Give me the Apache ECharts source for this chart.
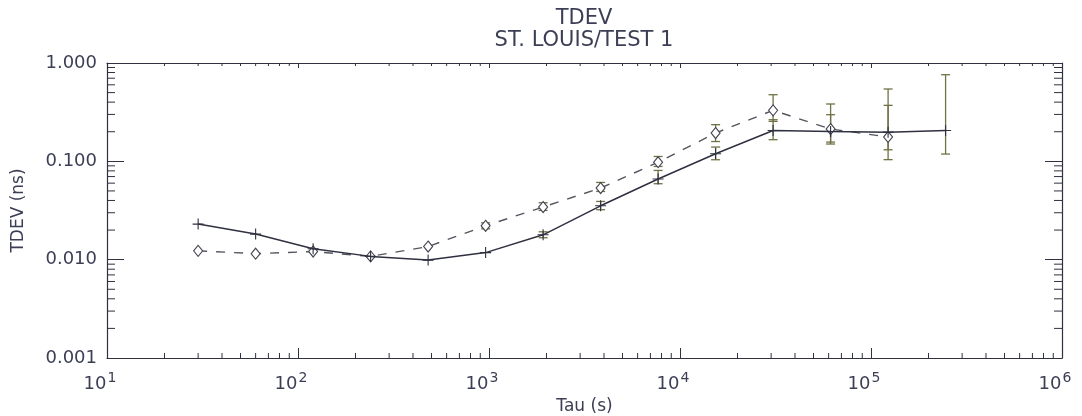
<!DOCTYPE html>
<html>
<head>
<meta charset="utf-8">
<script src="https://cdn.jsdelivr.net/npm/echarts@6/dist/echarts.min.js"></script>
<style>html,body{margin:0;padding:0;background:#fff;}#c{width:1082px;height:416px;}</style>
</head>
<body>
<div id="c"></div>
<script>
// ---- data ----
const tau = [30, 60, 120, 240, 480, 960, 1920, 3840, 7680, 15360, 30720, 61440, 122880, 245760];
const tdevSolid = [0.0230, 0.0182, 0.0129, 0.0108, 0.0099, 0.0118, 0.0179, 0.0353, 0.0661, 0.1195, 0.206, 0.201, 0.198, 0.206];
const tdevDashed = [0.0123, 0.0115, 0.0121, 0.0108, 0.0136, 0.0221, 0.0343, 0.0535, 0.098, 0.194, 0.330, 0.213, 0.177];
// error bars: [tau, low, high]
const errSolid = [
  [1920, 0.0167, 0.0192], [3840, 0.0322, 0.0391], [7680, 0.0592, 0.0808],
  [15360, 0.1038, 0.1397], [30720, 0.166, 0.265], [61440, 0.150, 0.298],
  [122880, 0.131, 0.371], [245760, 0.1186, 0.760]
];
const errDashed = [
  [960, 0.0206, 0.0237], [1920, 0.0317, 0.0379], [3840, 0.0494, 0.0610],
  [7680, 0.0887, 0.112], [15360, 0.159, 0.236], [30720, 0.255, 0.476],
  [61440, 0.157, 0.383], [122880, 0.104, 0.544]
];
const xMinorTicks = [];
const xDecades = [10, 100, 1000, 10000, 100000];
const minorMult = [2, 3, 4, 5, 6, 7, 8, 9];
xDecades.forEach(d => minorMult.forEach(m => xMinorTicks.push(d * m)));
const yMinorTicks = [];
const yDecades = [0.001, 0.01, 0.1];
yDecades.forEach(d => minorMult.forEach(m => yMinorTicks.push(+(d * m).toPrecision(3))));
const yTickLabels = {'0.001': '0.001', '0.01': '0.010', '0.1': '0.100', '1': '1.000'};
const xTickExponents = {'10': '1', '100': '2', '1000': '3', '10000': '4', '100000': '5', '1000000': '6'};

// ---- styles ----
const ink = '#2f3040';
const txt = '#3c3e56';
const errCol = '#717146';
const font = 'DejaVu Sans';

function errRender(params, api) {
  const x = api.value(0);
  const p1 = api.coord([x, api.value(1)]);
  const p2 = api.coord([x, api.value(2)]);
  const hw = 4.5;
  const st = {stroke: errCol, lineWidth: 1.3};
  return {type: 'group', children: [
    {type: 'line', shape: {x1: p1[0], y1: p1[1], x2: p2[0], y2: p2[1]}, style: st},
    {type: 'line', shape: {x1: p1[0] - hw, y1: p1[1], x2: p1[0] + hw, y2: p1[1]}, style: st},
    {type: 'line', shape: {x1: p2[0] - hw, y1: p2[1], x2: p2[0] + hw, y2: p2[1]}, style: st}
  ]};
}
function xMinorRender(params, api) {
  const cs = params.coordSys;
  const px = api.coord([api.value(0), 0.01])[0];
  const b = cs.y + cs.height, t = cs.y;
  const st = {stroke: ink, lineWidth: 1};
  return {type: 'group', children: [
    {type: 'line', shape: {x1: px, y1: b, x2: px, y2: b - 5}, style: st},
    {type: 'line', shape: {x1: px, y1: t, x2: px, y2: t + 3}, style: st}
  ]};
}
function yMinorRender(params, api) {
  const cs = params.coordSys;
  const py = api.coord([100, api.value(0)])[1];
  const l = cs.x, r = cs.x + cs.width;
  const st = {stroke: ink, lineWidth: 1};
  return {type: 'group', children: [
    {type: 'line', shape: {x1: l, y1: py, x2: l + 8, y2: py}, style: st},
    {type: 'line', shape: {x1: r, y1: py, x2: r - 8, y2: py}, style: st}
  ]};
}

const chart = echarts.init(document.getElementById('c'), null, {renderer: 'canvas'});
chart.setOption({
  backgroundColor: '#fff',
  animation: false,
  title: {
    text: 'TDEV\nST. LOUIS/TEST 1',
    left: 579, top: 3, textAlign: 'center',
    textStyle: {fontFamily: font, fontSize: 21, fontWeight: 'normal', color: txt, lineHeight: 22}
  },
  grid: {left: 107, right: 20, top: 63, bottom: 58, containLabel: false, outerBoundsMode: 'none'},
  xAxis: [{
    type: 'log', logBase: 10, min: 10, max: 1000000, splitNumber: 5,
    name: 'Tau (s)', nameLocation: 'middle', nameGap: 36,
    nameTextStyle: {fontFamily: font, fontSize: 17, color: txt},
    axisLine: {show: true, lineStyle: {color: ink, width: 1.2}},
    axisTick: {show: true, inside: true, length: 10, lineStyle: {color: ink}},
    splitLine: {show: false},
    axisLabel: {
      margin: 13,
      formatter: v => '{a|10}{b|' + xTickExponents[String(Math.round(v))] + '}',
      rich: {
        a: {fontFamily: font, fontSize: 18, color: txt},
        b: {fontFamily: font, fontSize: 14, color: txt, verticalAlign: 'bottom', padding: [0, 14, 13, 1]}
      }
    }
  }, {
    type: 'log', logBase: 10, min: 10, max: 1000000, splitNumber: 5, position: 'top',
    axisLine: {show: true, lineStyle: {color: ink, width: 1.2}},
    axisTick: {show: true, inside: true, length: 5, lineStyle: {color: ink}},
    axisLabel: {show: false}, splitLine: {show: false}
  }],
  yAxis: [{
    type: 'log', logBase: 10, min: 0.001, max: 1, splitNumber: 3,
    name: 'TDEV (ns)', nameLocation: 'middle', nameGap: 80,
    nameTextStyle: {fontFamily: font, fontSize: 17, color: txt},
    axisLine: {show: true, lineStyle: {color: ink, width: 1.2}},
    axisTick: {show: true, inside: true, length: 17, lineStyle: {color: ink}},
    splitLine: {show: false},
    axisLabel: {
      margin: 10, fontFamily: font, fontSize: 18, color: txt,
      formatter: v => yTickLabels[String(+v.toPrecision(3))] || ''
    }
  }, {
    type: 'log', logBase: 10, min: 0.001, max: 1, splitNumber: 3, position: 'right',
    axisLine: {show: true, lineStyle: {color: ink, width: 1.2}},
    axisTick: {show: true, inside: true, length: 17, lineStyle: {color: ink}},
    axisLabel: {show: false}, splitLine: {show: false}
  }],
  series: [
    {type: 'custom', renderItem: xMinorRender, data: xMinorTicks.map(v => [v, 0.01]), encode: {x: 0, y: 1}, silent: true, z: 1},
    {type: 'custom', renderItem: yMinorRender, data: yMinorTicks.map(v => [v]), encode: {y: 0}, silent: true, z: 1},
    {type: 'custom', renderItem: errRender, data: errDashed, encode: {x: 0, y: [1, 2]}, silent: true, z: 2},
    {type: 'custom', renderItem: errRender, data: errSolid, encode: {x: 0, y: [1, 2]}, silent: true, z: 2},
    {
      type: 'line', name: 'dashed', data: tau.slice(0, tdevDashed.length).map((t, i) => [t, tdevDashed[i]]),
      lineStyle: {color: '#555560', width: 1.4, type: [9, 9]},
      symbol: 'diamond', symbolSize: [9, 11], showAllSymbol: true,
      itemStyle: {color: '#fff', borderColor: '#444450', borderWidth: 1.1}, z: 3
    },
    {
      type: 'line', name: 'solid', data: tau.map((t, i) => [t, tdevSolid[i]]),
      lineStyle: {color: ink, width: 1.5, type: 'solid'},
      symbol: 'path://M-0.6,-6 L0.6,-6 L0.6,-0.6 L6,-0.6 L6,0.6 L0.6,0.6 L0.6,6 L-0.6,6 L-0.6,0.6 L-6,0.6 L-6,-0.6 L-0.6,-0.6 Z',
      symbolSize: 11, showAllSymbol: true,
      itemStyle: {color: ink}, z: 4
    }
  ]
});
</script>
</body>
</html>
